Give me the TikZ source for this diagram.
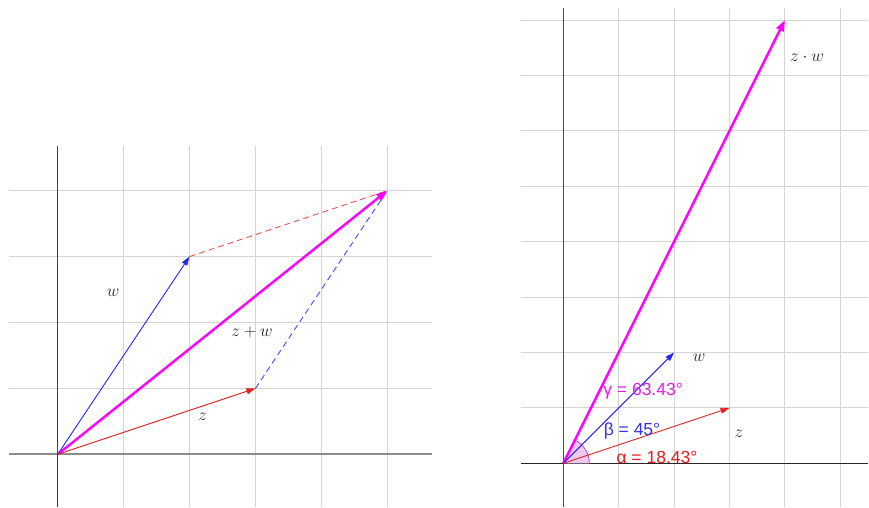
\documentclass[tikz,border=0pt]{standalone}
\usepackage{fontspec}
\newfontfamily\lblfont{Liberation Sans}
\usetikzlibrary{arrows.meta}
\definecolor{gridc}{RGB}{212,212,212}
\definecolor{vred}{RGB}{235,30,30}
\definecolor{vblue}{RGB}{40,40,235}
\definecolor{vmag}{RGB}{255,0,255}
\definecolor{tred}{RGB}{225,30,30}
\definecolor{tblue}{RGB}{50,50,220}
\definecolor{tmag}{RGB}{225,30,225}
\definecolor{arcfill}{RGB}{240,200,240}
\definecolor{arcdraw}{RGB}{190,90,190}
\tikzset{
  gridline/.style={gridc, line width=0.9pt},
  thinvec/.style={line width=0.9pt, -{Triangle[length=9pt,width=6pt]}},
  thickvec/.style={vmag, line width=2.4pt, -{Triangle[length=11pt,width=8pt]}},
  dashvec/.style={line width=0.9pt, dash pattern=on 6pt off 4pt},
  mathlbl/.style={font=\fontsize{16}{19}\selectfont, text=black!85, inner sep=0pt},
  mathlblr/.style={font=\fontsize{17}{20}\selectfont, text=black!85, inner sep=0pt},
  anglbl/.style={font=\lblfont\fontsize{17.5}{20}\selectfont, inner sep=0pt},
}
\begin{document}
\begin{tikzpicture}[x=1pt,y=1pt]
\useasboundingbox (0,0) rectangle (869,507);
% ---------- left plot: sum ----------
\begin{scope}[shift={(57.7pt,52.7pt)}, x=65.9pt, y=65.9pt]
  \draw[gridline, step={(1,1)}] (-0.734,-0.795) grid (5.675,4.678);
  \draw[black!45, line width=2pt] (-0.734,0) -- (5.675,0);
  \draw[black!75, line width=1.1pt] (0,-0.795) -- (0,4.678);
  \coordinate (O1) at (0,0);
  \coordinate (Z1) at (3,1);
  \coordinate (W1) at (2,3);
  \coordinate (S1) at (5,4);
  \draw[vred!80, dashvec] (W1) -- (S1);
  \draw[vblue!85, dashvec] (Z1) -- (S1);
  \draw[thickvec] (O1) -- (S1);
  \draw[vblue, thinvec] (O1) -- (W1);
  \draw[vred, thinvec] (O1) -- (Z1);
  \node[mathlbl] (lw1) at (0.84,2.45) {$w$};
  \node[mathlbl] (lzw1) at (2.95,1.86) {$z+w$};
  \node[mathlbl] (lz1) at (2.20,0.57) {$z$};
\end{scope}
% ---------- right plot: product ----------
\begin{scope}[shift={(563.3pt,43.7pt)}, x=55.4pt, y=55.4pt]
  \draw[gridline, step={(1,1)}] (-0.764,-0.79) grid (5.5,8.22);
  \draw[black!85, line width=1.1pt] (-0.764,0) -- (5.5,0);
  \draw[black!70, line width=1.1pt] (0,-0.79) -- (0,8.22);
  \coordinate (O2) at (0,0);
  \coordinate (Z2) at (3,1);
  \coordinate (W2) at (2,2);
  \coordinate (P2) at (4,8);
  \fill[arcfill] (O2) -- (0.47,0) arc[start angle=0, end angle=63.43, radius=0.47] -- cycle;
  \draw[arcdraw, line width=0.9pt] (0.47,0) arc[start angle=0, end angle=63.43, radius=0.47];
  \draw[thickvec] (O2) -- (P2);
  \draw[vblue, thinvec] (O2) -- (W2);
  \draw[vred, thinvec] (O2) -- (Z2);
  \node[mathlblr] (lw2) at (2.45,1.90) {$w$};
  \node[mathlblr] (lz2) at (3.17,0.53) {$z$};
  \node[mathlblr] (lp2) at (4.40,7.32) {$z\cdot w$};
  \node[anglbl, text=tmag] (lg) at (1.44,1.31) {γ = 63.43°};
  \node[anglbl, text=tblue] (lb) at (1.24,0.58) {β = 45°};
  \node[anglbl, text=tred] (la) at (1.69,0.11) {α = 18.43°};
\end{scope}
\end{tikzpicture}
\end{document}
